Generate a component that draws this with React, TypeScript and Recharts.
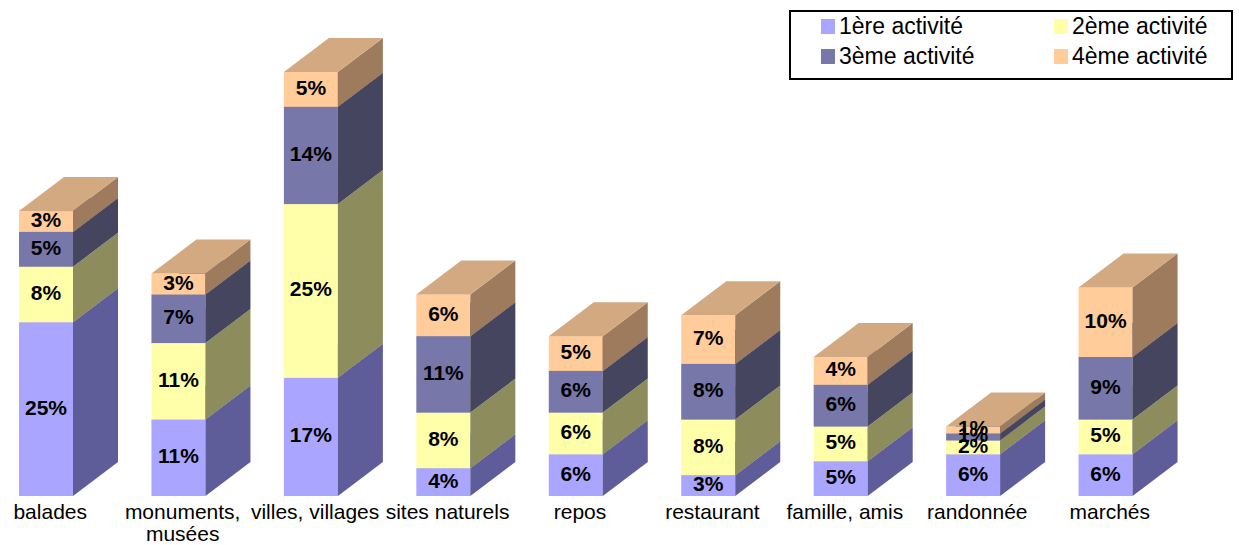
import { Bar, BarChart, LabelList, XAxis, YAxis } from "recharts";

const categories = [
  "balades",
  "monuments,\nmusées",
  "villes, villages",
  "sites naturels",
  "repos",
  "restaurant",
  "famille, amis",
  "randonnée",
  "marchés",
];
const premiere = [25, 11, 17, 4, 6, 3, 5, 6, 6];
const deuxieme = [8, 11, 25, 8, 6, 8, 5, 2, 5];
const troisieme = [5, 7, 14, 11, 6, 8, 6, 1, 9];
const quatrieme = [3, 3, 5, 6, 5, 7, 4, 1, 10];

const seriesNames = ["1ère activité", "2ème activité", "3ème activité", "4ème activité"];
const frontColors = ["#AAA6FF", "#FFFFAA", "#7777AA", "#FFCC9A"];
const sideColors = ["#5E5C99", "#8C8C5C", "#45455F", "#9E7B5D"];
const topColors = ["#8884CC", "#CCCC88", "#5E5E88", "#D2A981"];

const data = categories.map((name, i) => ({
  name,
  s1: premiere[i],
  s2: deuxieme[i],
  s3: troisieme[i],
  s4: quatrieme[i],
}));

const FONT = '"Liberation Sans", Arial, Helvetica, sans-serif';
const DX = 45;
const DY = 34;

function Prism(props: any) {
  const { x, y, width, height, fill, side, top } = props;
  if (!height || height <= 0) return null;
  const r = x + width;
  const b = y + height;
  return (
    <g>
      <rect x={x} y={y} width={width} height={height} fill={fill} />
      <polygon points={`${r},${b} ${r + DX},${b - DY} ${r + DX},${y - DY} ${r},${y}`} fill={side} />
      <polygon points={`${x},${y} ${r},${y} ${r + DX},${y - DY} ${x + DX},${y - DY}`} fill={top} />
    </g>
  );
}

function ValueLabel(props: any) {
  const { x, y, width, height, value } = props;
  return (
    <text
      x={x + width / 2}
      y={y + height / 2 - 2}
      textAnchor="middle"
      dominantBaseline="central"
      fontFamily={FONT}
      fontWeight="bold"
      fontSize={21}
      fill="#000"
    >
      {value}%
    </text>
  );
}

function CategoryTick(props: any) {
  const { x, y, payload } = props;
  const lines = String(payload.value).split("\n");
  return (
    <text x={x + 4} y={y} textAnchor="middle" fontFamily={FONT} fontSize={21} fill="#000">
      {lines.map((l, i) => (
        <tspan key={i} x={x + 4} dy={i === 0 ? "0.71em" : "1.05em"}>
          {l}
        </tspan>
      ))}
    </text>
  );
}

function LegendBox() {
  const rows = [
    [0, 1],
    [2, 3],
  ];
  return (
    <div
      style={{
        position: "absolute",
        left: 789,
        top: 10,
        width: 440,
        height: 66,
        border: "2px solid #000",
        background: "#fff",
        fontFamily: FONT,
        fontSize: 23,
        color: "#000",
      }}
    >
      {rows.map((row, ri) => (
        <div key={ri} style={{ position: "absolute", top: 0 + ri * 30, left: 0, width: "100%", height: 28 }}>
          {row.map((si, ci) => (
            <div
              key={si}
              style={{
                position: "absolute",
                left: ci === 0 ? 30 : 263,
                top: 0,
                display: "flex",
                alignItems: "center",
                height: 28,
                whiteSpace: "nowrap",
              }}
            >
              <span
                style={{ display: "inline-block", width: 14, height: 15, background: frontColors[si], marginRight: 4 }}
              />
              {seriesNames[si]}
            </div>
          ))}
        </div>
      ))}
    </div>
  );
}

export default function App() {
  const keys = ["s1", "s2", "s3", "s4"];
  return (
    <div style={{ position: "absolute", left: 0, top: 0, width: 1239, height: 545, overflow: "hidden", background: "#fff" }}>
      <div style={{ position: "absolute", left: -20, top: 0 }}>
        <BarChart width={1260} height={545} data={data} margin={{ top: 9.5, right: 68, left: 0, bottom: 0 }}>
          <XAxis
            dataKey="name"
            interval={0}
            axisLine={false}
            tickLine={false}
            height={49}
            tick={<CategoryTick />}
          />
          <YAxis hide domain={[0, 70]} />
          {keys.map((k, i) => (
            <Bar
              key={k}
              dataKey={k}
              name={seriesNames[i]}
              stackId="a"
              barSize={54}
              fill={frontColors[i]}
              isAnimationActive={false}
              shape={(p: any) => <Prism {...p} fill={frontColors[i]} side={sideColors[i]} top={topColors[i]} />}
            >
              <LabelList dataKey={k} content={<ValueLabel />} />
            </Bar>
          ))}
        </BarChart>
      </div>
      <LegendBox />
    </div>
  );
}
